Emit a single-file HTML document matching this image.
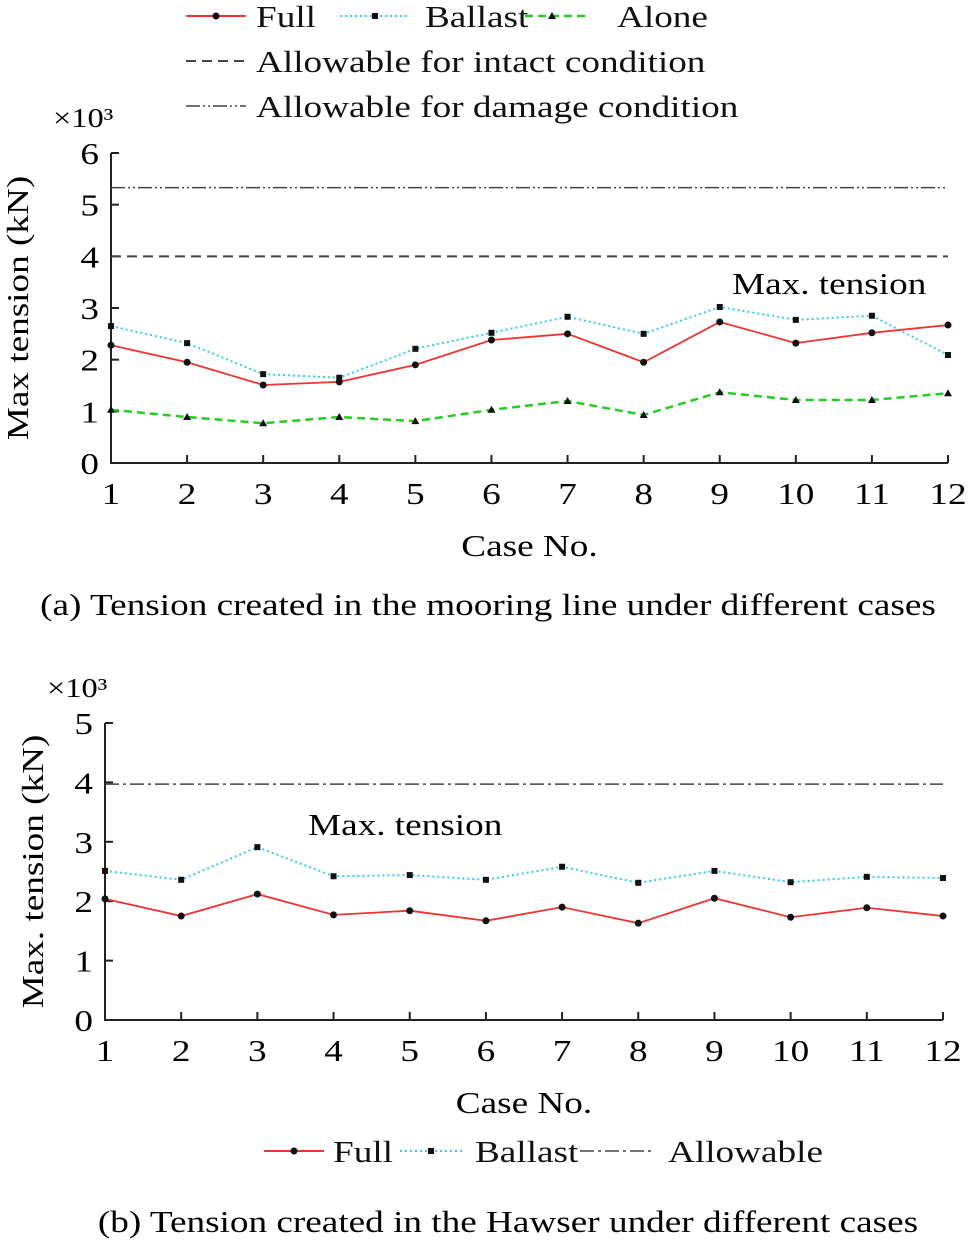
<!DOCTYPE html>
<html><head><meta charset="utf-8"><style>
body{margin:0;background:#fff;}
svg{display:block;font-family:"Liberation Serif",serif;}
</style></head><body>
<svg id="s" width="976" height="1244" viewBox="0 0 976 1244">
<g font-size="31" fill="#111">
<line x1="186" y1="16" x2="246" y2="16" stroke="#e33" stroke-width="2"/><circle cx="216" cy="16" r="3.5" fill="#111"/>
<text x="256" y="27">Full</text>
<line x1="340" y1="16" x2="410" y2="16" stroke="#3ce" stroke-width="2" stroke-dasharray="2,3"/><rect x="372" y="13" width="6" height="6" fill="#111"/>
<text x="425" y="27">Ballast</text>
<line x1="525" y1="16" x2="585" y2="16" stroke="#2c2" stroke-width="2.5" stroke-dasharray="8,5"/><path d="M552 12 L556 19 L548 19Z" fill="#111"/>
<text x="617" y="27">Alone</text>
<line x1="186" y1="61" x2="246" y2="61" stroke="#444" stroke-width="2" stroke-dasharray="10,6"/>
<text x="256" y="72">Allowable for intact condition</text>
<line x1="186" y1="106" x2="246" y2="106" stroke="#444" stroke-width="1.5" stroke-dasharray="14,3,2,3,2,3"/>
<text x="256" y="117">Allowable for damage condition</text>
</g>
<g id="ca"></g>
<g id="cb"></g>
<text x="488" y="615" font-size="31" text-anchor="middle">(a) Tension created in the mooring line under different cases</text>
<g font-size="31" fill="#111">
<line x1="264" y1="1151" x2="324" y2="1151" stroke="#e33" stroke-width="2"/><circle cx="294" cy="1151" r="3.5" fill="#111"/>
<text x="333" y="1162">Full</text>
<line x1="400" y1="1151" x2="462" y2="1151" stroke="#3ce" stroke-width="2" stroke-dasharray="2,3"/><rect x="428" y="1148" width="6" height="6" fill="#111"/>
<text x="475" y="1162">Ballast</text>
<line x1="580" y1="1151" x2="652" y2="1151" stroke="#444" stroke-width="1.5" stroke-dasharray="14,4,3,4"/>
<text x="668" y="1162">Allowable</text>
</g>
<text x="508" y="1232" font-size="31" text-anchor="middle">(b) Tension created in the Hawser under different cases</text>
</svg>
<script>
const cases=[1,2,3,4,5,6,7,8,9,10,11,12];
const fullA=[2.28,1.95,1.51,1.57,1.90,2.38,2.50,1.95,2.73,2.32,2.52,2.67];
const ballastA=[2.65,2.32,1.72,1.65,2.21,2.52,2.83,2.50,3.02,2.77,2.85,2.09];
const aloneA=[1.03,0.89,0.77,0.89,0.81,1.03,1.20,0.93,1.37,1.22,1.22,1.35];
const intactA=4.0, damageA=5.33;
const yTicksA=[0,1,2,3,4,5,6];
const fullB=[2.04,1.75,2.12,1.77,1.84,1.67,1.90,1.63,2.05,1.73,1.89,1.75];
const ballastB=[2.51,2.36,2.91,2.42,2.44,2.36,2.58,2.31,2.51,2.32,2.41,2.39];
const allowB=3.97;
const yTicksB=[0,1,2,3,4,5];
const NS="http://www.w3.org/2000/svg";
function el(p,t,a){const e=document.createElementNS(NS,t);for(const k in a)e.setAttribute(k,a[k]);p.appendChild(e);return e;}
function chart(g,o){
 const X=c=>o.x0+(c-1)*(o.x1-o.x0)/11, Y=v=>o.y0-v*(o.y0-o.y1)/o.ymax;
 let ax=el(g,'path',{d:`M${o.x0} ${o.y1}V${o.y0}H${o.x1}`,stroke:'#222','stroke-width':2,fill:'none'});
 
 o.yt.forEach(v=>{el(g,'line',{x1:o.x0,x2:o.x0+8,y1:Y(v),y2:Y(v),stroke:'#222','stroke-width':2});
  const t=el(g,'text',{x:o.x0-12,y:Y(v)+11,'font-size':31,'text-anchor':'end'});t.textContent=v;
  });
 cases.forEach(c=>{el(g,'line',{x1:X(c),x2:X(c),y1:o.y0,y2:o.y0-8,stroke:'#222','stroke-width':2});
  const t=el(g,'text',{x:X(c),y:o.y0+41,'font-size':31,'text-anchor':'middle'});t.textContent=c;
  });
 let t=el(g,'text',{x:(o.x0+o.x1)/2,y:o.y0+93,'font-size':31,'text-anchor':'middle'});t.textContent='Case No.';
 
 t=el(g,'text',{transform:`translate(${o.x0+o.tx},${(o.y0+o.y1)/2}) rotate(-90)`,'font-size':31,'text-anchor':'middle'});t.textContent=o.ytitle;
 
 t=el(g,'text',{x:o.x0-58,y:o.y1-26,'font-size':27});t.textContent='×10³';
 
 o.hl.forEach(h=>{const l=el(g,'line',{x1:o.x0,x2:o.x1,y1:Y(h.v),y2:Y(h.v),stroke:'#444','stroke-width':h.w,'stroke-dasharray':h.d});
  });
 t=el(g,'text',{x:o.mx,y:o.my,'font-size':31});t.textContent='Max. tension';
 
 o.series.forEach(s=>{const p=el(g,'polyline',{points:s.d.map((v,i)=>X(cases[i])+','+Y(v)).join(' '),fill:'none',stroke:s.c,'stroke-width':s.w,'stroke-dasharray':s.dash});
  
  s.d.forEach((v,i)=>{let m;const x=X(cases[i]),y=Y(v);
   if(s.m=='c')m=el(g,'circle',{cx:x,cy:y,r:3.5,fill:'#111'});
   else if(s.m=='s')m=el(g,'rect',{x:x-3,y:y-3,width:6,height:6,fill:'#111'});
   else m=el(g,'path',{d:`M${x} ${y-4}L${x+4} ${y+3}L${x-4} ${y+3}Z`,fill:'#111'});
   });});
}
chart(document.getElementById('ca'),{x0:111,x1:948,y0:463,y1:153,ymax:6,yt:yTicksA,ytitle:'Max tension (kN)',tx:-83,mx:732,my:294,
 hl:[{v:damageA,w:1.5,d:'14,3,2,3,2,3',n:'damage-allowable-line'},{v:intactA,w:2,d:'10,6',n:'intact-allowable-line'}],
 series:[{d:ballastA,c:'#3ce',w:2,dash:'2,3',m:'s',n:'ballast'},{d:fullA,c:'#e33',w:1.8,dash:'',m:'c',n:'full'},{d:aloneA,c:'#2c2',w:2.5,dash:'8,5',m:'t',n:'alone'}]});
chart(document.getElementById('cb'),{x0:105,x1:943,y0:1020,y1:723,ymax:5,yt:yTicksB,ytitle:'Max. tension (kN)',tx:-62,mx:308,my:835,
 hl:[{v:allowB,w:1.5,d:'14,4,3,4',n:'allowable-line'}],
 series:[{d:ballastB,c:'#3ce',w:2,dash:'2,3',m:'s',n:'ballast'},{d:fullB,c:'#e33',w:1.8,dash:'',m:'c',n:'full'}]});
document.querySelectorAll('text').forEach(t=>{const w=t.getComputedTextLength();t.setAttribute('textLength',(w*1.2).toFixed(1));t.setAttribute('lengthAdjust','spacingAndGlyphs');});
</script>
</body></html>
